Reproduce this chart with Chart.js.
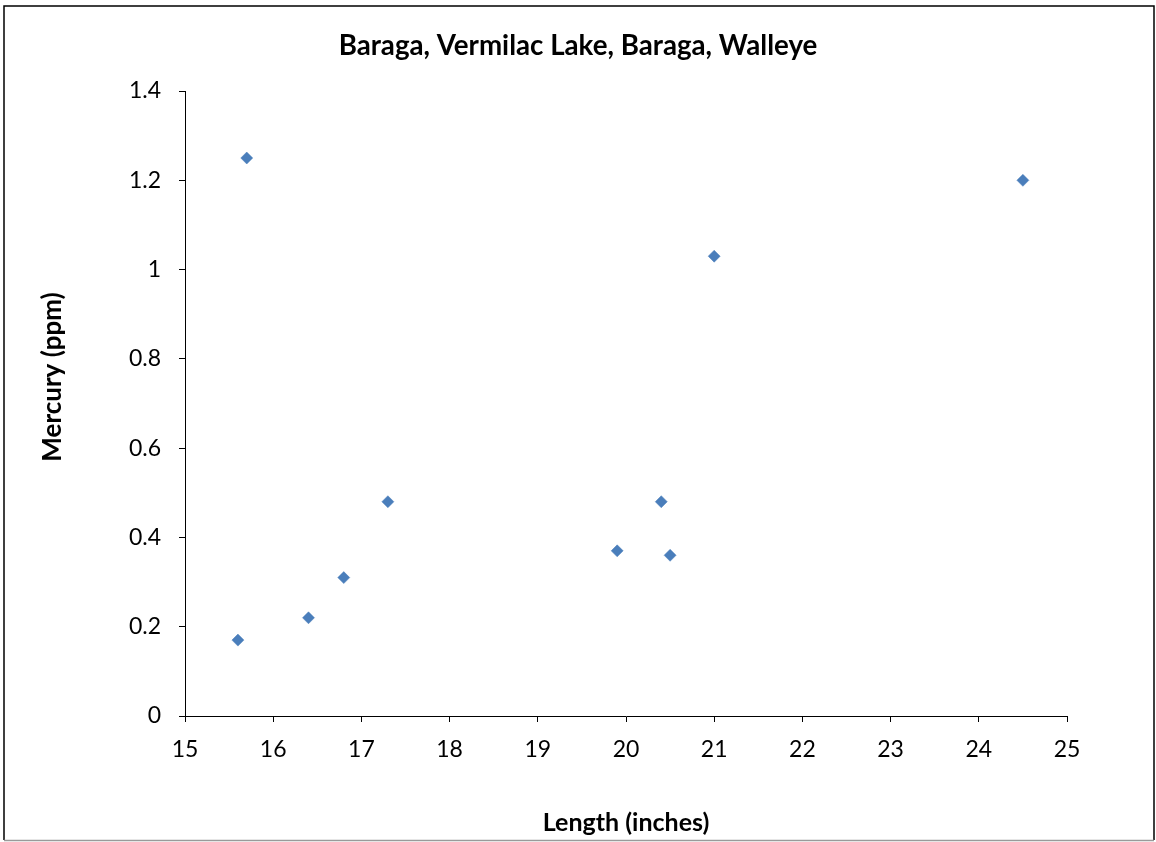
<!DOCTYPE html>
<html>
<head>
<meta charset="utf-8">
<script src="https://cdn.jsdelivr.net/npm/chart.js@4/dist/chart.umd.min.js"></script>
<style>
  html, body { margin: 0; padding: 0; background: #fff; }
  #wrap { width: 1156px; height: 842px; position: relative; }
</style>
</head>
<body>
<div id="wrap"><canvas id="c" width="1156" height="842"></canvas></div>
<script>
const chartTitle = 'Baraga, Vermilac Lake, Baraga, Walleye';
const xAxisTitle = 'Length (inches)';
const yAxisTitle = 'Mercury (ppm)';
const lengthInches = [15.6, 15.7, 16.4, 16.8, 17.3, 19.9, 20.4, 20.5, 21.0, 24.5];
const mercuryPpm  = [0.17, 1.25, 0.22, 0.31, 0.48, 0.37, 0.48, 0.36, 1.03, 1.20];
const xTickLabels = ['15','16','17','18','19','20','21','22','23','24','25'];
const yTickLabels = ['0','0.2','0.4','0.6','0.8','1','1.2','1.4'];

const FONT = 'Lato, "Open Sans", sans-serif';

const borderPlugin = {
  id: 'outerBorder',
  afterDraw(chart) {
    const ctx = chart.ctx;
    ctx.save();
    ctx.strokeStyle = '#000';
    ctx.lineWidth = 1.5;
    ctx.beginPath();
    ctx.moveTo(4, 840);
    ctx.lineTo(4, 6);
    ctx.lineTo(1154, 6);
    ctx.lineTo(1154, 840);
    ctx.stroke();
    ctx.strokeStyle = '#9a9a9a';
    ctx.beginPath();
    ctx.moveTo(4, 840.5);
    ctx.lineTo(1154, 840.5);
    ctx.stroke();
    ctx.restore();
  }
};

const yTitlePlugin = {
  id: 'yTitle',
  afterDraw(chart) {
    const ctx = chart.ctx;
    ctx.save();
    ctx.translate(53, 377);
    ctx.rotate(-Math.PI / 2);
    ctx.font = 'bold 26px ' + FONT;
    ctx.fillStyle = '#000';
    ctx.textAlign = 'center';
    ctx.textBaseline = 'middle';
    ctx.fillText(yAxisTitle, 0, 0);
    ctx.restore();
  }
};

const points = lengthInches.map((x, i) => ({ x: x, y: mercuryPpm[i] }));

new Chart(document.getElementById('c'), {
  type: 'scatter',
  data: {
    datasets: [{
      label: 'Walleye',
      data: points,
      pointStyle: 'rectRot',
      pointRadius: 6,
      pointHoverRadius: 6,
      backgroundColor: '#4a7ebb',
      borderColor: '#4a7ebb',
      borderWidth: 0.5
    }]
  },
  plugins: [borderPlugin, yTitlePlugin],
  options: {
    responsive: false,
    animation: false,
    events: [],
    layout: { padding: { left: 0, right: 0, top: 0, bottom: 0 } },
    plugins: {
      legend: { display: false },
      tooltip: { enabled: false },
      title: {
        display: true,
        text: chartTitle,
        color: '#000',
        font: { family: FONT, size: 27.7, weight: 'bold', lineHeight: 1.2 },
        padding: { top: 29.5, bottom: 28.3 }
      }
    },
    scales: {
      x: {
        type: 'linear',
        min: 15,
        max: 25,
        afterFit(scale) { scale.height = 126; },
        border: { display: true, color: '#000', width: 1 },
        grid: { drawOnChartArea: false, drawTicks: true, tickLength: 6, color: '#000' },
        ticks: {
          stepSize: 1,
          color: '#000',
          padding: 14,
          font: { family: FONT, size: 23 },
          callback: (v, i) => xTickLabels[i]
        },
        title: {
          display: true,
          text: xAxisTitle,
          color: '#000',
          font: { family: FONT, size: 25, weight: 'bold', lineHeight: 1.2 },
          padding: { top: 0, bottom: 4 }
        }
      },
      y: {
        type: 'linear',
        min: 0,
        max: 1.4,
        afterFit(scale) { scale.width = 185; },
        border: { display: true, color: '#000', width: 1 },
        grid: { drawOnChartArea: false, drawTicks: true, tickLength: 6, color: '#000' },
        ticks: {
          stepSize: 0.2,
          color: '#000',
          padding: 18,
          font: { family: FONT, size: 23 },
          callback: (v, i) => yTickLabels[i]
        }
      },
      yRightSpace: {
        type: 'linear',
        position: 'right',
        display: true,
        min: 0,
        max: 1.4,
        afterFit(scale) { scale.width = 89; },
        border: { display: false },
        grid: { display: false, drawTicks: false },
        ticks: { display: false }
      }
    }
  }
});
</script>
</body>
</html>
